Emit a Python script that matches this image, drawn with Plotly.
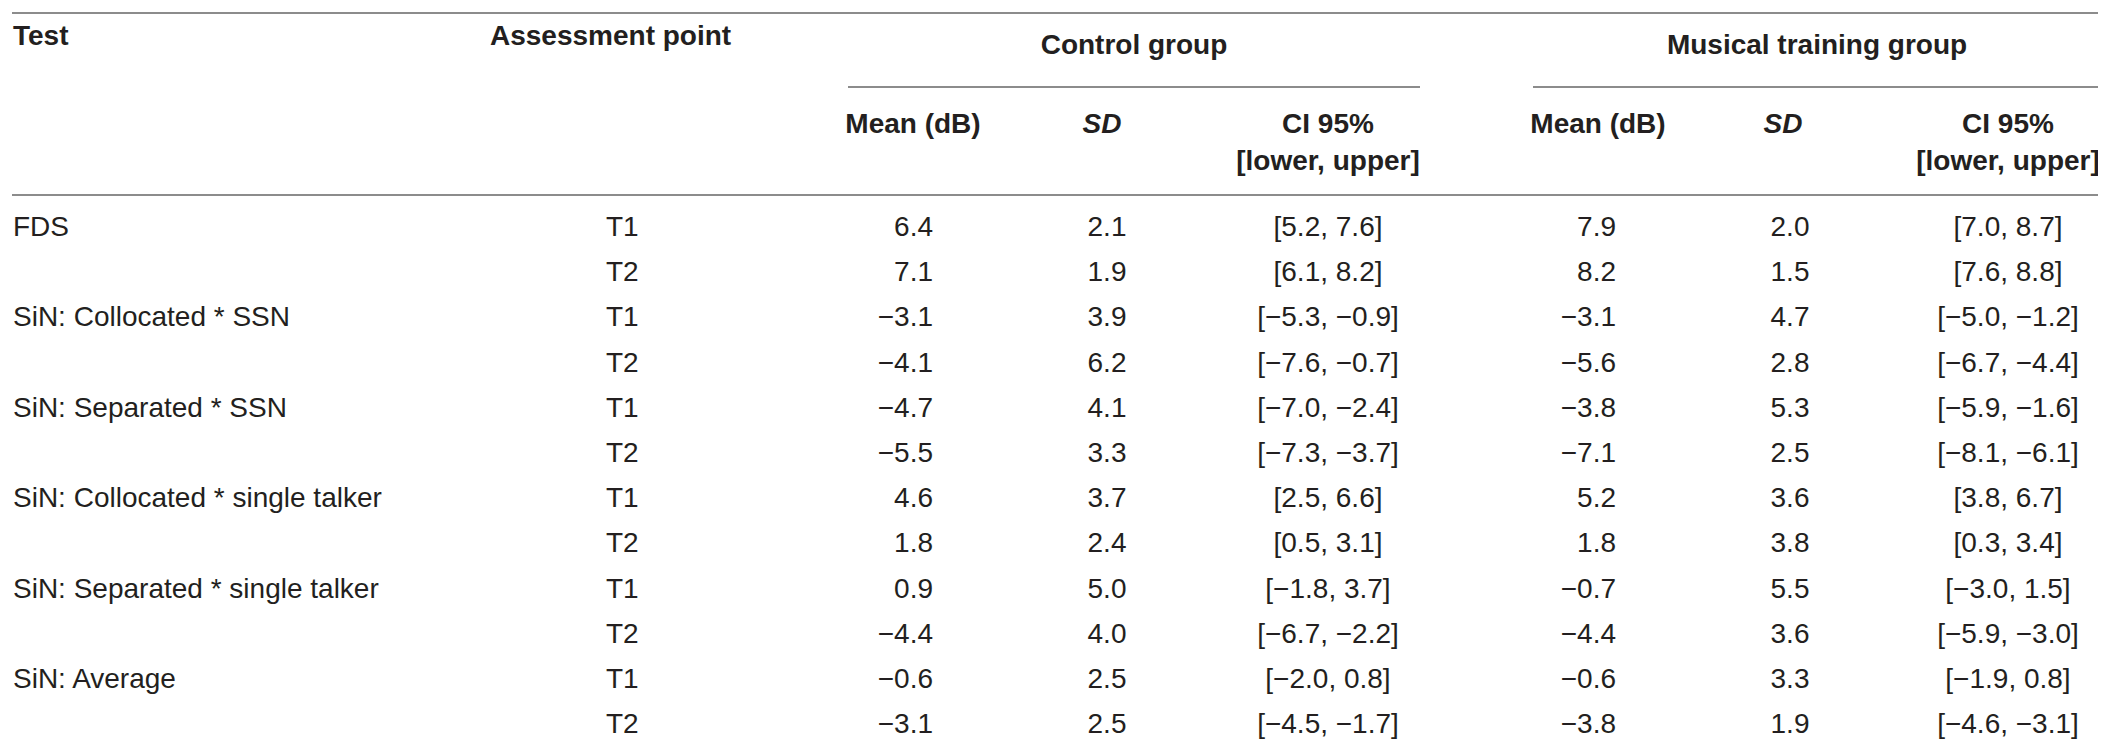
"""
Descriptive results per group (Control vs Musical training), drawn as a table
with plain text traces and rule lines.
"""
import plotly.graph_objects as go

TESTS = [
    "FDS",
    "SiN: Collocated * SSN",
    "SiN: Separated * SSN",
    "SiN: Collocated * single talker",
    "SiN: Separated * single talker",
    "SiN: Average",
]
POINTS = ["T1", "T2"]

# one value per row, rows ordered test by test, T1 then T2
CTRL_MEAN = [6.4, 7.1, -3.1, -4.1, -4.7, -5.5, 4.6, 1.8, 0.9, -4.4, -0.6, -3.1]
CTRL_SD = [2.1, 1.9, 3.9, 6.2, 4.1, 3.3, 3.7, 2.4, 5.0, 4.0, 2.5, 2.5]
CTRL_LO = [5.2, 6.1, -5.3, -7.6, -7.0, -7.3, 2.5, 0.5, -1.8, -6.7, -2.0, -4.5]
CTRL_HI = [7.6, 8.2, -0.9, -0.7, -2.4, -3.7, 6.6, 3.1, 3.7, -2.2, 0.8, -1.7]

MUS_MEAN = [7.9, 8.2, -3.1, -5.6, -3.8, -7.1, 5.2, 1.8, -0.7, -4.4, -0.6, -3.8]
MUS_SD = [2.0, 1.5, 4.7, 2.8, 5.3, 2.5, 3.6, 3.8, 5.5, 3.6, 3.3, 1.9]
MUS_LO = [7.0, 7.6, -5.0, -6.7, -5.9, -8.1, 3.8, 0.3, -3.0, -5.9, -1.9, -4.6]
MUS_HI = [8.7, 8.8, -1.2, -4.4, -1.6, -6.1, 6.7, 3.4, 1.5, -3.0, 0.8, -3.1]

W, H = 2106, 740
FONT = "Liberation Sans, Arial, Helvetica, sans-serif"
INK = "#231f20"
RULE = "#8c8c8c"
FS = 28

ROW0, ROW_H = 221, 45.2


def fmt(v):
    return f"{v:.1f}".replace("-", "\u2212")


def ci(lo, hi):
    return [f"[{fmt(a)}, {fmt(b)}]" for a, b in zip(lo, hi)]


n = len(CTRL_MEAN)
row_y = [ROW0 + i * ROW_H for i in range(n)]
test_col = [TESTS[i // 2] if i % 2 == 0 else "" for i in range(n)]
point_col = [POINTS[i % 2] for i in range(n)]

# (x anchor, textposition, texts)
columns = [
    (5, "middle right", test_col),
    (598, "middle right", point_col),
    (925, "middle left", [fmt(v) for v in CTRL_MEAN]),
    (1099, "middle center", [fmt(v) for v in CTRL_SD]),
    (1320, "middle center", ci(CTRL_LO, CTRL_HI)),
    (1608, "middle left", [fmt(v) for v in MUS_MEAN]),
    (1782, "middle center", [fmt(v) for v in MUS_SD]),
    (2000, "middle center", ci(MUS_LO, MUS_HI)),
]

fig = go.Figure()
for x, pos, texts in columns:
    fig.add_trace(go.Scatter(
        x=[x] * n, y=row_y, text=texts, mode="text", textposition=pos,
        textfont=dict(family=FONT, size=FS, color=INK),
        cliponaxis=False, hoverinfo="skip", showlegend=False,
    ))

# header texts: (x, y, text, textposition)
headers = [
    (5, 30, "<b>Test</b>", "middle right"),
    (482, 30, "<b>Assessment point</b>", "middle right"),
    (1126, 39, "<b>Control group</b>", "middle center"),
    (1809, 39, "<b>Musical training group</b>", "middle center"),
    (905, 118, "<b>Mean (dB)</b>", "middle center"),
    (1094, 118, "<b><i>SD</i></b>", "middle center"),
    (1320, 118, "<b>CI 95%</b>", "middle center"),
    (1320, 155, "<b>[lower, upper]</b>", "middle center"),
    (1590, 118, "<b>Mean (dB)</b>", "middle center"),
    (1775, 118, "<b><i>SD</i></b>", "middle center"),
    (2000, 118, "<b>CI 95%</b>", "middle center"),
    (2000, 155, "<b>[lower, upper]</b>", "middle center"),
]
for x, y, t, pos in headers:
    fig.add_trace(go.Scatter(
        x=[x], y=[y], text=[t], mode="text", textposition=pos,
        textfont=dict(family=FONT, size=FS, color=INK),
        cliponaxis=False, hoverinfo="skip", showlegend=False,
    ))

rules = [(4, 2102, 5), (840, 1412, 79), (1525, 2094, 79), (4, 2102, 187)]
for x0, x1, y in rules:
    fig.add_shape(type="line", x0=x0, x1=x1, y0=y, y1=y, xref="x", yref="y",
                  line=dict(color=RULE, width=2))

fig.update_layout(
    width=W, height=H,
    margin=dict(l=0, r=0, t=0, b=0),
    paper_bgcolor="white", plot_bgcolor="white",
    xaxis=dict(range=[0, W], visible=False, fixedrange=True),
    yaxis=dict(range=[H, 0], visible=False, fixedrange=True),
)

fig.write_html("out.html")
